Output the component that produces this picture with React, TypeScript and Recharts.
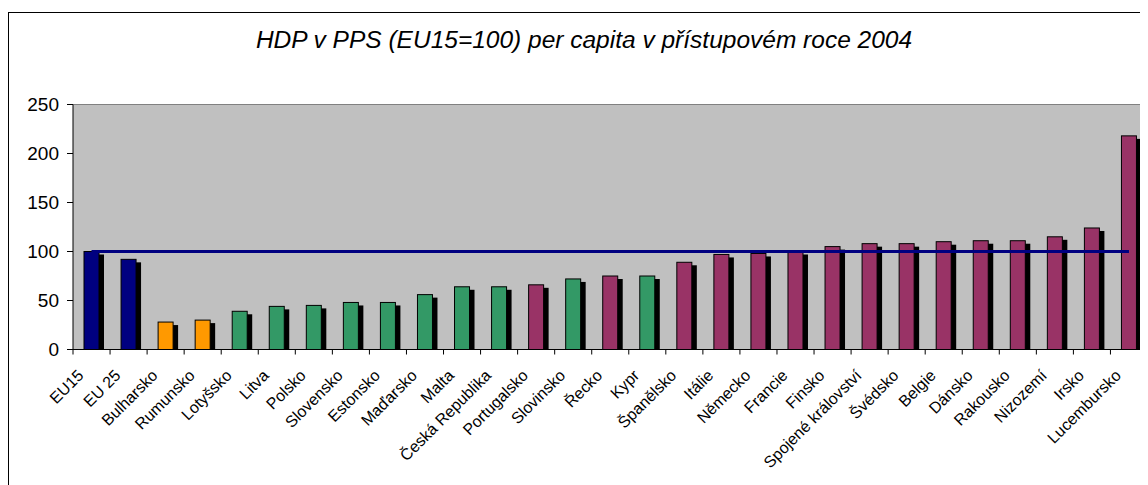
import { ComposedChart, Bar, Line, XAxis, YAxis, CartesianGrid, ReferenceLine, Cell } from "recharts";

const FONT = '"Liberation Sans", Arial, sans-serif';

const NAVY = "#000080";
const ORANGE = "#ff9900";
const GREEN = "#339966";
const MAROON = "#993366";
const PLOT_BG = "#c0c0c0";

const countries = [
  "EU15", "EU 25", "Bulharsko", "Rumunsko", "Lotyšsko", "Litva", "Polsko", "Slovensko",
  "Estonsko", "Maďarsko", "Malta", "Česká Republika", "Portugalsko", "Slovinsko", "Řecko",
  "Kypr", "Španělsko", "Itálie", "Německo", "Francie", "Finsko", "Spojené království",
  "Švédsko", "Belgie", "Dánsko", "Rakousko", "Nizozemí", "Irsko", "Lucembursko",
];

// HDP v PPS, EU15 = 100
const gdpValues = [
  100, 92, 28, 30, 39, 44, 45, 48, 48, 56, 64, 64, 66, 72, 75,
  75, 89, 97, 98, 100, 105, 108, 108, 110, 111, 111, 115, 124, 218,
];

// eu = průměry, kand = kandidáti, nove = nové členské, stare = EU15
const groups = [
  "eu", "eu", "kand", "kand", "nove", "nove", "nove", "nove",
  "nove", "nove", "nove", "nove", "stare", "nove", "stare",
  "nove", "stare", "stare", "stare", "stare", "stare", "stare",
  "stare", "stare", "stare", "stare", "stare", "stare", "stare",
];

const baseline = 100;
const yTicks = [0, 50, 100, 150, 200, 250];

const groupColor: Record<string, string> = { eu: NAVY, kand: ORANGE, nove: GREEN, stare: MAROON };

const rows = countries.map((name, i) => ({
  name,
  hdp: gdpValues[i],
  ref: baseline,
  group: groups[i],
}));

const W = 1141;
const H = 477;
const MARGIN = { top: 96.5, right: 1.5, bottom: 5.5, left: 5 };
const Y_AXIS_W = 60;
const X_AXIS_H = 130;
const BAND = (W - MARGIN.left - MARGIN.right - Y_AXIS_W) / rows.length;

function ShadowBar(props: any) {
  const { x, y, width, height, fill } = props;
  if (!height || height <= 0) return null;
  return (
    <g>
      <rect x={x + 5} y={y + 3} width={width} height={Math.max(0, height - 3)} fill="#000" />
      <rect x={x} y={y} width={width} height={height} fill={fill} stroke="#000" strokeWidth={1} />
    </g>
  );
}

// popisek + dělicí čárka mezi kategoriemi (jako v Excelu)
function CountryTick(props: any) {
  const { x, y, payload, index } = props;
  const px = x - 7;
  const py = y + 27;
  const left = x - BAND / 2;
  const right = x + BAND / 2;
  return (
    <g>
      <line x1={left} x2={left} y1={y} y2={y + 5} stroke="#000" />
      {index === rows.length - 1 && <line x1={right} x2={right} y1={y} y2={y + 5} stroke="#000" />}
      <text
        x={px}
        y={py}
        transform={`rotate(-45 ${px} ${py})`}
        textAnchor="end"
        fontSize={16}
        fontFamily={FONT}
        fill="#000"
      >
        {payload.value}
      </text>
    </g>
  );
}

export default function App() {
  return (
    <div style={{ position: "relative", width: W, height: H, overflow: "hidden", fontFamily: FONT }}>
      <style>{"html, body { overflow: hidden; }"}</style>
      <div
        style={{
          position: "absolute", left: 0, top: 4, width: 1300, height: 700,
          borderLeft: "1px solid #000", borderTop: "1px solid #000",
        }}
      />
      <div
        style={{
          position: "absolute", left: 0, top: 19.6, width: 1152, textAlign: "center",
          fontSize: 24.5, lineHeight: "24.5px", fontStyle: "italic", color: "#000",
        }}
      >
        HDP v PPS (EU15=100) per capita v přístupovém roce 2004
      </div>
      <div style={{ position: "absolute", left: 0, top: 0 }}>
        <ComposedChart width={W} height={H} data={rows} barCategoryGap={0} margin={MARGIN}>
          <CartesianGrid fill={PLOT_BG} stroke="none" horizontal={false} vertical={false} />
          <XAxis
            dataKey="name"
            height={X_AXIS_H}
            interval={0}
            axisLine={{ stroke: "#000" }}
            tickLine={false}
            tickSize={0}
            tickMargin={0}
            tick={<CountryTick />}
          />
          <YAxis
            domain={[0, 250]}
            ticks={yTicks}
            width={Y_AXIS_W}
            axisLine={{ stroke: "#000" }}
            tickLine={{ stroke: "#000" }}
            tickSize={6}
            tickMargin={8}
            tick={{ fill: "#000", fontSize: 19, fontFamily: FONT }}
          />
          <ReferenceLine y={250} stroke="#808080" />
          <Bar dataKey="hdp" barSize={15} shape={<ShadowBar />} isAnimationActive={false}>
            {rows.map((r) => (
              <Cell key={r.name} fill={groupColor[r.group]} />
            ))}
          </Bar>
          <Line
            dataKey="ref"
            type="linear"
            stroke={NAVY}
            strokeWidth={3}
            dot={false}
            isAnimationActive={false}
          />
        </ComposedChart>
      </div>
      <div
        style={{
          position: "absolute", top: MARGIN.top, left: W - MARGIN.right - 1, width: 1,
          height: H - MARGIN.top - MARGIN.bottom - X_AXIS_H, background: "#808080",
        }}
      />
    </div>
  );
}
